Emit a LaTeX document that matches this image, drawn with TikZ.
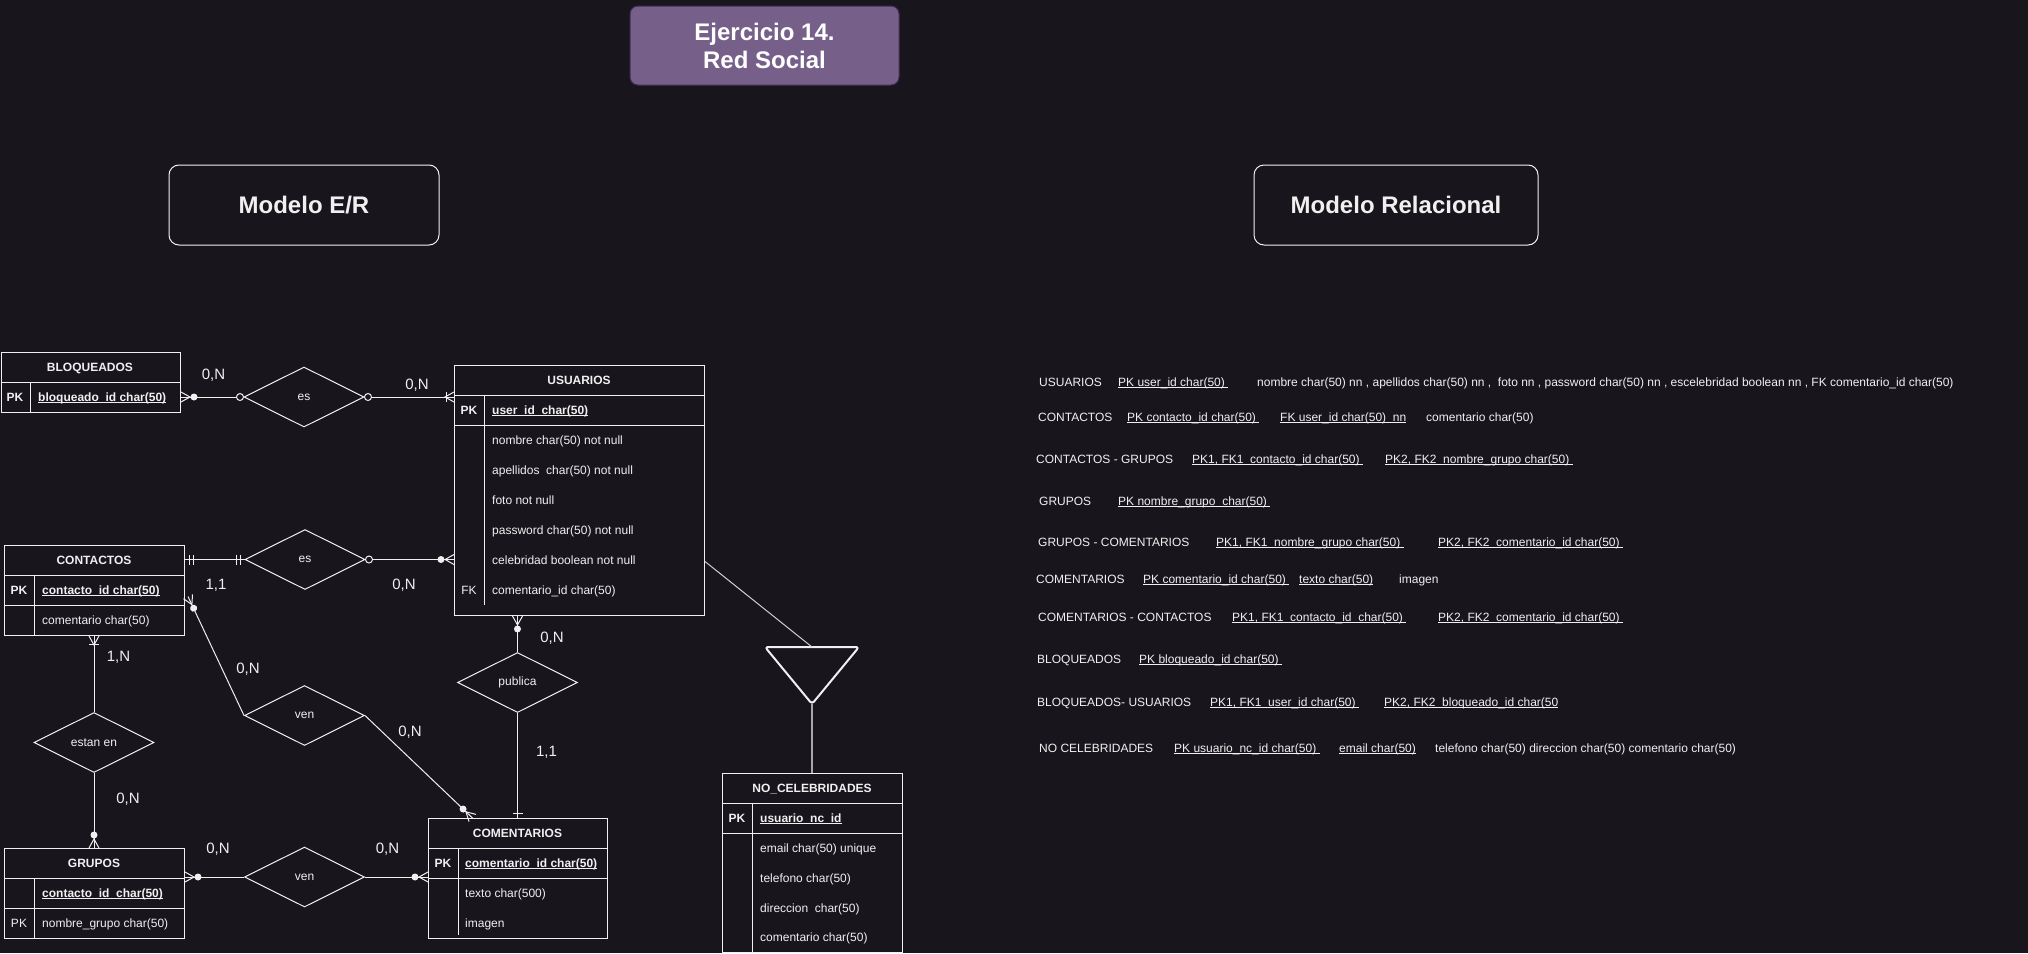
\documentclass[tikz,border=0pt]{standalone}
\usepackage{fontspec}
\setmainfont{Liberation Sans}
\usetikzlibrary{shapes.geometric,calc}
\definecolor{bg}{HTML}{19151D}
\definecolor{lc}{HTML}{F0F0F0}
\definecolor{fg}{HTML}{F0F0F0}
\definecolor{tfill}{HTML}{76608A}
\definecolor{tdraw}{HTML}{432D57}
\definecolor{isag}{HTML}{A8A8A8}
\newcommand\fsn{\fontsize{12}{14}\selectfont}
\newcommand\fsl{\fontsize{15}{18}\selectfont}
\newcommand\fsb{\fontsize{24}{28}\selectfont}
\newcommand\myul[1]{\underline{\smash{#1}}}
\newcommand\rul[1]{\underline{\smash{#1\ }}}
\tikzset{
  conn/.style={draw=lc, line width=1pt},
  zmany/.pic={\draw[conn] (0,-5) -- (-9,0) -- (0,5); \fill[lc] (-13,0) circle (3.5);},
  omany/.pic={\draw[conn] (0,-5) -- (-9,0) -- (0,5); \draw[conn] (-8,-5) -- (-8,5);},
  mone/.pic={\draw[conn] (-4,-5) -- (-4,5) (-8,-5) -- (-8,5);},
  oneb/.pic={\draw[conn] (-5,-5) -- (-5,5);},
  ocirc/.pic={\draw[conn, fill=bg] (-3.5,0) circle (3.5);},
  txt/.style={inner sep=0pt, text=fg, font=\fsn, text height=10pt, text depth=2pt},
  att/.style={txt, anchor=west},
  hd/.style={txt, font=\fsn\bfseries},
  kt/.style={txt, font=\fsn\bfseries},
  lab/.style={inner sep=0pt, text=fg, font=\fsl, text height=11pt, text depth=0pt},
  tbox/.style={draw=lc, line width=1pt, fill=bg, inner sep=0pt, anchor=north west},
  tline/.style={draw=lc, line width=1pt},
  dia/.style={diamond, draw=lc, line width=1pt, fill=bg, minimum width=120pt, minimum height=60pt, inner sep=0pt, text=fg, font=\fsn},
  hbox/.style={draw=lc, line width=1pt, rounded corners=10pt, minimum height=80pt, inner sep=0pt, text=fg, font=\fsb\bfseries},
}
\begin{document}
\begin{tikzpicture}[x=1pt,y=-1pt]
\fill[bg] (0,0) rectangle (2028,953);
\useasboundingbox (0,0) rectangle (2028,953);

% titles
\node[draw=tdraw, fill=tfill, line width=1pt, rounded corners=8pt, minimum width=269pt, minimum height=79pt, inner sep=0pt, align=center, text=white, font=\fsb\bfseries] (title) at (764.5,45.5) {Ejercicio 14.\\Red Social};
\node[hbox, minimum width=270pt] (mer) at (304,205) {Modelo E/R};
\node[hbox, minimum width=284pt] (mrel) at (1396,205) {Modelo Relacional};

% BLOQUEADOS
\node[tbox, minimum width=179.5pt, minimum height=60pt] (bloq) at (0.5,352) {};
\draw[tline] (0.5,382) -- (180,382) (30,382) -- (30,412);
\node[hd] (bloqh) at (90,367) {BLOQUEADOS};
\node[kt] (bloqk) at (15,397) {PK};
\node[att, font=\fsn\bfseries] (bloq1) at (38,397) {\myul{bloqueado\_id char(50)}};

% CONTACTOS
\node[tbox, minimum width=180pt, minimum height=90pt] (cont) at (4,545) {};
\draw[tline] (4,575) -- (184,575) (4,605) -- (184,605) (34,575) -- (34,635);
\node[hd] (conth) at (94,560) {CONTACTOS};
\node[kt] (contk) at (19,590) {PK};
\node[att, font=\fsn\bfseries] (cont1) at (42,590) {\myul{contacto\_id char(50)}};
\node[att] (cont2) at (42,620) {comentario char(50)};

% GRUPOS
\node[tbox, minimum width=180pt, minimum height=90pt] (grup) at (4,848) {};
\draw[tline] (4,878) -- (184,878) (4,908) -- (184,908) (34,878) -- (34,938);
\node[hd] (gruph) at (94,863) {GRUPOS};
\node[att, font=\fsn\bfseries] (grup1) at (42,893) {\myul{contacto\_id\ \ char(50)}};
\node[txt] (grupk) at (19,923) {PK};
\node[att] (grup2) at (42,923) {nombre\_grupo char(50)};

% COMENTARIOS
\node[tbox, minimum width=179pt, minimum height=120pt] (com) at (428,818) {};
\draw[tline] (428,848) -- (607,848) (428,878) -- (607,878) (458,848) -- (458,935);
\node[hd] (comh) at (517.5,833) {COMENTARIOS};
\node[kt] (comk) at (443,863) {PK};
\node[att, font=\fsn\bfseries] (com1) at (465,863) {\myul{comentario\_id char(50)}};
\node[att] (com2) at (465,893) {texto char(500)};
\node[att] (com3) at (465,923) {imagen};

% USUARIOS
\node[tbox, minimum width=250pt, minimum height=250pt] (usu) at (454,365) {};
\draw[tline] (454,395) -- (704,395) (454,425) -- (704,425) (484,395) -- (484,605);
\node[hd] (usuh) at (579,380) {USUARIOS};
\node[kt] (usuk) at (469,410) {PK};
\node[att, font=\fsn\bfseries] (usu1) at (492,410) {\myul{user\_id\ \ char(50)}};
\node[att] (usu2) at (492,440) {nombre char(50) not null};
\node[att] (usu3) at (492,470) {apellidos\ \ char(50) not null};
\node[att] (usu4) at (492,500) {foto not null};
\node[att] (usu5) at (492,530) {password char(50) not null};
\node[att] (usu6) at (492,560) {celebridad boolean not null};
\node[txt] (usufk) at (469,590) {FK};
\node[att] (usu7) at (492,590) {comentario\_id char(50)};

% NO_CELEBRIDADES
\node[tbox, minimum width=180pt, minimum height=179pt] (nocel) at (722,773) {};
\draw[tline] (722,803) -- (902,803) (722,833) -- (902,833) (752,803) -- (752,952);
\node[hd] (nocelh) at (812,788) {NO\_CELEBRIDADES};
\node[kt] (nocelk) at (737,818) {PK};
\node[att, font=\fsn\bfseries] (nocel1) at (760,818) {\myul{usuario\_nc\_id}};
\node[att] (nocel2) at (760,848) {email char(50) unique};
\node[att] (nocel3) at (760,878) {telefono char(50)};
\node[att] (nocel4) at (760,908) {direccion\ \ char(50)};
\node[att] (nocel5) at (760,937) {comentario char(50)};

% relationships
\node[dia] (esA) at (304,397) {es};
\node[dia] (esB) at (305,559.5) {es};
\node[dia] (venA) at (304.5,715.5) {ven};
\node[dia] (venB) at (304.5,877) {ven};
\node[dia] (pub) at (517.5,682.5) {publica};
\node[dia] (estan) at (94,742.5) {estan en};

% ISA triangle
\coordinate (isaL) at (765,647);
\coordinate (isaR) at (859,647);
\coordinate (isaB) at (812,704);
\coordinate (isaT) at (812,647);
\draw[lc, line width=2pt, rounded corners=3pt, line join=round] (isaL) -- (isaR) -- (isaB) -- cycle;
\draw[conn, draw=lc!85!bg] ([yshift=-71pt]usu.east) -- (isaT);
\draw[isag, line width=1.5pt] (isaB) -- (isaB |- nocel.north);

% connectors
\draw[conn] (bloq.east |- esA.west) -- (esA.west);
\pic[rotate=180] at (bloq.east |- esA.west) {zmany};
\pic at (esA.west) {ocirc};
\draw[conn] (esA.east) -- (esA.east -| usu.west);
\pic[rotate=180] at (esA.east) {ocirc};
\pic at (esA.east -| usu.west) {omany};

\draw[conn] (cont.east |- esB.west) -- (esB.west);
\pic[rotate=180] at (cont.east |- esB.west) {mone};
\pic at (esB.west) {mone};
\draw[conn] (esB.east) -- (esB.east -| usu.west);
\pic[rotate=180] at (esB.east) {ocirc};
\pic at (esB.east -| usu.west) {zmany};

\coordinate (cd1) at ([xshift=3pt,yshift=-6pt]cont.east);
\draw[conn] (cd1) -- (venA.west);
\pic[rotate=115.7] at (cd1) {zmany};
\coordinate (cd2) at ([xshift=-45.5pt]com.north);
\draw[conn] (venA.east) -- (cd2);
\pic[rotate=-43.6] at (cd2) {zmany};

\draw[conn] (cont.south -| estan.north) -- (estan.north);
\pic[rotate=90] at (cont.south -| estan.north) {omany};
\draw[conn] (estan.south) -- (estan.south |- grup.north);
\pic[rotate=-90] at (estan.south |- grup.north) {zmany};

\draw[conn] (grup.east |- venB.west) -- (venB.west);
\pic[rotate=180] at (grup.east |- venB.west) {zmany};
\draw[conn] (venB.east) -- (venB.east -| com.west);
\pic at (venB.east -| com.west) {zmany};

\draw[conn] (usu.south -| pub.north) -- (pub.north);
\pic[rotate=90] at (usu.south -| pub.north) {zmany};
\draw[conn] (pub.south) -- (pub.south |- com.north);
\pic[rotate=-90] at (pub.south |- com.north) {oneb};

% cardinality labels
\node[lab] (l1) at (213.5,374) {0,N};
\node[lab] (l2) at (417,384) {0,N};
\node[lab] (l3) at (216,584) {1,1};
\node[lab] (l4) at (404,584) {0,N};
\node[lab] (l5) at (248,668) {0,N};
\node[lab] (l6) at (410,731) {0,N};
\node[lab] (l7) at (118.5,656) {1,N};
\node[lab] (l8) at (128,798) {0,N};
\node[lab] (l9) at (218,848) {0,N};
\node[lab] (l10) at (387.5,848) {0,N};
\node[lab] (l11) at (552,637) {0,N};
\node[lab] (l12) at (546.5,751) {1,1};

% relational model
\node[att] (r1a) at (1039,382) {USUARIOS};
\node[att] (r1b) at (1118,382) {\rul{PK user\_id char(50)}};
\node[att] (r1c) at (1257,382) {nombre char(50) nn , apellidos char(50) nn ,\ \ foto nn , password char(50) nn , escelebridad boolean nn , FK comentario\_id char(50)};

\node[att] (r2a) at (1038,417) {CONTACTOS};
\node[att] (r2b) at (1127,417) {\rul{PK contacto\_id char(50)}};
\node[att] (r2c) at (1280,417) {\myul{FK user\_id char(50)\ \ nn}};
\node[att] (r2d) at (1426,417) {comentario char(50)};

\node[att] (r3a) at (1036,459) {CONTACTOS - GRUPOS};
\node[att] (r3b) at (1192,459) {\rul{PK1, FK1\ \ contacto\_id char(50)}};
\node[att] (r3c) at (1385,459) {\rul{PK2, FK2\ \ nombre\_grupo char(50)}};

\node[att] (r4a) at (1039,501) {GRUPOS};
\node[att] (r4b) at (1118,501) {\rul{PK nombre\_grupo\ \ char(50)}};

\node[att] (r5a) at (1038,542) {GRUPOS - COMENTARIOS};
\node[att] (r5b) at (1216,542) {\rul{PK1, FK1\ \ nombre\_grupo char(50)}};
\node[att] (r5c) at (1438,542) {\rul{PK2, FK2\ \ comentario\_id char(50)}};

\node[att] (r6a) at (1036,579) {COMENTARIOS};
\node[att] (r6b) at (1143,579) {\rul{PK comentario\_id char(50)}};
\node[att] (r6c) at (1299,579) {\myul{texto char(50)}};
\node[att] (r6d) at (1399,579) {imagen};

\node[att] (r7a) at (1038,617) {COMENTARIOS - CONTACTOS};
\node[att] (r7b) at (1232,617) {\rul{PK1, FK1\ \ contacto\_id\ \ char(50)}};
\node[att] (r7c) at (1438,617) {\rul{PK2, FK2\ \ comentario\_id char(50)}};

\node[att] (r8a) at (1037,659) {BLOQUEADOS};
\node[att] (r8b) at (1139,659) {\rul{PK bloqueado\_id char(50)}};

\node[att] (r9a) at (1037,702) {BLOQUEADOS- USUARIOS};
\node[att] (r9b) at (1210,702) {\rul{PK1, FK1\ \ user\_id char(50)}};
\node[att] (r9c) at (1384,702) {\myul{PK2, FK2\ \ bloqueado\_id char(50}};

\node[att] (r10a) at (1039,748) {NO CELEBRIDADES};
\node[att] (r10b) at (1174,748) {\rul{PK usuario\_nc\_id char(50)}};
\node[att] (r10c) at (1339,748) {\myul{email char(50)}};
\node[att] (r10d) at (1435,748) {telefono char(50) direccion char(50) comentario char(50)};
\end{tikzpicture}
\end{document}
